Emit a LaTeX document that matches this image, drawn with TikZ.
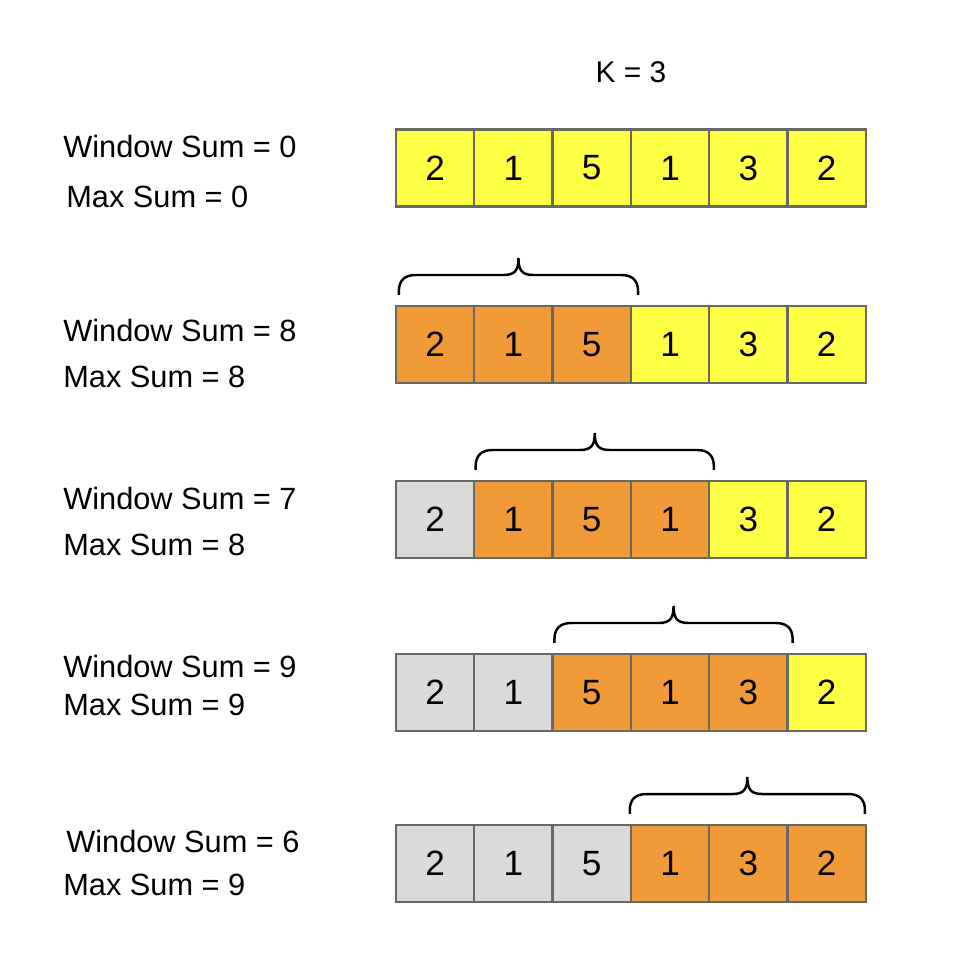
\documentclass[tikz,border=0pt]{standalone}
\usepackage{fontspec}
\setmainfont{Liberation Sans}
\usetikzlibrary{calc}

\definecolor{cellyellow}{RGB}{255,255,70}
\definecolor{cellorange}{RGB}{240,155,56}
\definecolor{cellgray}{RGB}{218,218,218}
\definecolor{cellline}{RGB}{105,105,95}

\tikzset{
	cell/.style={draw=cellline, line width=1.3pt, minimum width=1.566cm, minimum height=1.54cm, inner sep=0pt, font=\fontsize{20}{24}\selectfont},
	sumlabel/.style={anchor=base west, inner sep=0pt, font=\fontsize{17.5}{21}\selectfont},
	% curly brace with straight legs, drawn with "to"
	window/.style={line width=1.4pt, to path={
		let \p1=(\tikztostart), \p2=(\tikztotarget), \n1={0.5*(\x1+\x2)} in
		-- (\x1,\y1+2pt) .. controls (\x1,\y1+8pt) and (\x1+3pt,\y1+11.3pt) .. (\x1+9.6pt,\y1+11.3pt)
		-- (\n1-8.5pt,\y1+11.3pt) .. controls (\n1-2pt,\y1+11.3pt) and (\n1,\y1+14pt) .. (\n1,\y1+21pt)
		.. controls (\n1,\y1+14pt) and (\n1+2pt,\y1+11.3pt) .. (\n1+8.5pt,\y1+11.3pt)
		-- (\x2-9.6pt,\y1+11.3pt) .. controls (\x2-3pt,\y1+11.3pt) and (\x2,\y1+8pt) .. (\x2,\y1+2pt)
		-- (\tikztotarget)}}
}

\begin{document}
\begin{tikzpicture}[x=0.02cm,y=-0.02cm]
	\useasboundingbox (0,0) rectangle (973,966);
	\node[anchor=base, inner sep=0pt, font=\fontsize{17}{20}\selectfont] (k) at (631,83) {K = 3};
	% rows of cells: gray before the window, orange inside, yellow after
	\foreach \r/\y/\lo/\hi in {1/168/1/0, 2/344.5/1/3, 3/519.5/2/4, 4/692.5/3/5, 5/863.5/4/6} {
		\foreach \c [count=\i] in {2,1,5,1,3,2} {
			\ifnum\i<\lo \def\fc{cellgray}\else\ifnum\i>\hi \def\fc{cellyellow}\else\def\fc{cellorange}\fi\fi
			\node[cell, fill=\fc] (c\r\i) at ({396+78.3*(\i-0.5)},\y) {\c};
		}
	}
	\node[sumlabel] (wsum1) at (63,158) {Window Sum = 0};
	\node[sumlabel] (msum1) at (66,208) {Max Sum = 0};
	\node[sumlabel] (wsum2) at (63,341.5) {Window Sum = 8};
	\node[sumlabel] (msum2) at (63,387.5) {Max Sum = 8};
	\node[sumlabel] (wsum3) at (63,509.5) {Window Sum = 7};
	\node[sumlabel] (msum3) at (63,555.5) {Max Sum = 8};
	\node[sumlabel] (wsum4) at (63,677.5) {Window Sum = 9};
	\node[sumlabel] (msum4) at (63,715.5) {Max Sum = 9};
	\node[sumlabel] (wsum5) at (66,852.5) {Window Sum = 6};
	\node[sumlabel] (msum5) at (63,895.5) {Max Sum = 9};
	% braces over the window
	\foreach \r/\a/\b/\da/\db in {2/1/3/4/6, 3/2/4/2.5/3.5, 4/3/5/3/4, 5/4/6/0/-2}
		\draw[window] ($(c\r\a.north west)+(\da,-10)$) to ($(c\r\b.north east)+(\db,-10)$);
\end{tikzpicture}
\end{document}
